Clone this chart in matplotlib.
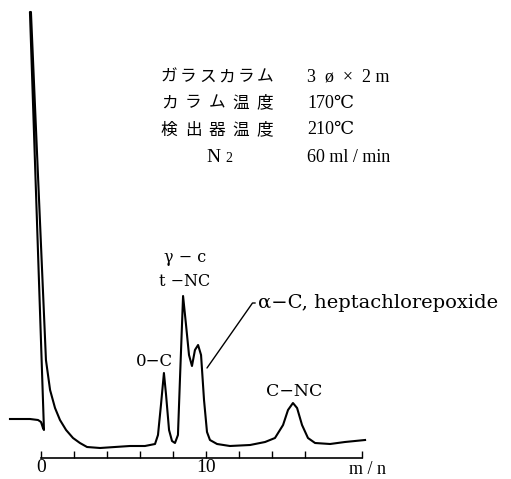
# -*- coding: utf-8 -*-
import matplotlib
matplotlib.use('Agg')
import matplotlib.pyplot as plt

# chromatogram trace (time in min, response in arbitrary units)
time_min = [-1.88, -0.67, -0.18, 0.00, 0.12, 0.18, -0.67, -0.61, 0.30, 0.55, 0.85, 1.15,
            1.52, 1.94, 2.36, 2.79, 3.58, 4.48, 5.39, 6.30, 6.91, 7.09, 7.27, 7.45,
            7.58, 7.76, 7.94, 8.12, 8.30, 8.42, 8.61, 8.79, 8.97, 9.15, 9.33, 9.52,
            9.70, 9.88, 10.06, 10.24, 10.67, 11.45, 12.67, 13.58, 14.18, 14.67, 14.97,
            15.27, 15.52, 15.82, 16.18, 16.61, 17.52, 18.42, 19.64]
response = [27, 27, 26, 24, 18, 16, 434, 434, 86, 56, 38, 26,
            16, 8, 3, -1, -2, -1, 0, 0, 2, 11, 41, 73,
            51, 16, 5, 3, 11, 66, 150, 121, 91, 80, 96, 101,
            91, 46, 14, 6, 2, 0, 1, 4, 8, 21, 36,
            43, 38, 21, 8, 3, 2, 4, 6]

major_ticks = [0, 10]
minor_ticks = [2, 4, 6, 8, 12, 14, 16, 19.45]

cond_names = ['ガラスカラム', 'カラム温度', '検出器温度']
cond_values = ['3  ø  ×  2 m', '170℃', '210℃', '60 ml / min']

fig = plt.figure(figsize=(5.11, 4.79), dpi=100)
ax = fig.add_axes([0, 0, 1, 1])
ax.plot(time_min, response, color='black', linewidth=1.5, solid_joinstyle='round')
ax.set_xlim(-41 / 16.5, 470 / 16.5)
ax.set_ylim(-33, 446)

for s in ['left', 'top', 'right']:
    ax.spines[s].set_visible(False)
ax.spines['bottom'].set_position(('data', -12))
ax.spines['bottom'].set_bounds(0, 19.45)
ax.spines['bottom'].set_linewidth(1.2)
ax.set_yticks([])
ax.set_xticks(major_ticks)
ax.set_xticks(minor_ticks, minor=True)
ax.tick_params(axis='x', which='both', direction='in', length=5, width=1, pad=1,
               labelsize=14)
for lab in ax.get_xticklabels():
    lab.set_fontfamily(['Liberation Serif', 'DejaVu Serif'])

def fx(px):
    return px / 511

def fy(py):
    return 1 - py / 479

serif = ['Liberation Serif', 'DejaVu Serif']
dserif = ['DejaVu Serif']

fig.text(fx(367), fy(469), 'm / n', fontsize=13, family=serif, ha='center', va='center')

# operating conditions, left column spread over a fixed width
row_y = [77, 103, 130]
for name, y in zip(cond_names, row_y):
    n = len(name)
    for i, ch in enumerate(name):
        cx = 169 + (265 - 169) * i / (n - 1)
        fig.text(fx(cx), fy(y), ch, fontsize=12, family=['Noto Sans CJK JP'],
                 ha='center', va='center')
fig.text(fx(213), fy(157), 'N', fontsize=14, family=serif, ha='center', va='center')
fig.text(fx(229), fy(159), '2', fontsize=10, family=serif, ha='center', va='center')
for val, y in zip(cond_values, [77, 103, 130, 157]):
    fig.text(fx(307), fy(y), val, fontsize=13, family=serif, ha='left', va='center')

# peak labels
fig.text(fx(185), fy(257), 'γ − c', fontsize=11.5, family=dserif, ha='center', va='center')
fig.text(fx(185), fy(282), 't −NC', fontsize=11.5, family=dserif, ha='center', va='center')
fig.text(fx(154), fy(362), '0−C', fontsize=12, family=dserif, ha='center', va='center')
fig.text(fx(294), fy(392), 'C−NC', fontsize=12.5, family=dserif, ha='center', va='center')
ax.annotate('α−C, heptachlorepoxide', xy=(10.06, 78), xycoords='data',
            xytext=(fx(258), fy(303)), textcoords='figure fraction',
            fontsize=14, family=dserif, ha='left', va='center',
            arrowprops=dict(arrowstyle='-', color='black', lw=1,
                            connectionstyle='angle,angleA=180,angleB=55,rad=0',
                            relpos=(0, 0.5), shrinkA=0, shrinkB=0))

fig.savefig('out.png', dpi=100)
